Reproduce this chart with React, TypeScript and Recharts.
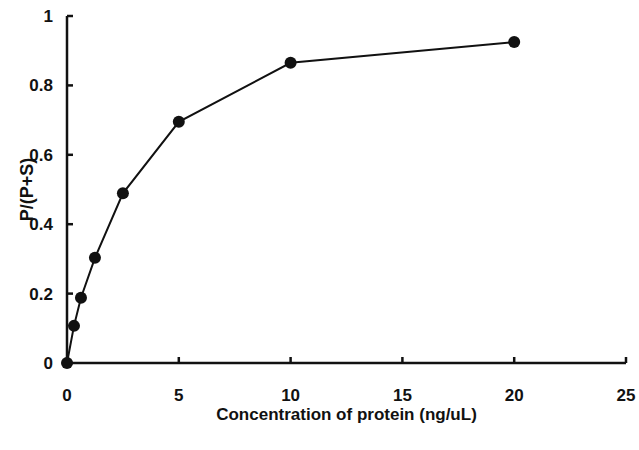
import { LineChart, Line, XAxis, YAxis } from "recharts";

const concentration = [0, 0.3125, 0.625, 1.25, 2.5, 5, 10, 20];
const ratio = [0, 0.107, 0.188, 0.303, 0.489, 0.695, 0.865, 0.925];
const xTicks = [0, 5, 10, 15, 20, 25];
const yTicks = [0, 0.2, 0.4, 0.6, 0.8, 1];

const data = concentration.map((c, i) => ({ c, r: ratio[i] }));

const font = "'Liberation Sans', Arial, sans-serif";
const tickStyle = { fontSize: 17, fontWeight: 700, fill: "#111", fontFamily: font };
const labelStyle = { fontSize: 17, fontWeight: 700, fill: "#111", fontFamily: font };

export default function App() {
  return (
    <div style={{ position: "absolute", left: 0, top: 0, background: "#fff" }}>
      <LineChart width={639} height={450} data={data} margin={{ top: 16, right: 13, left: 0, bottom: 0 }}>
        <XAxis
          dataKey="c"
          type="number"
          domain={[0, 25]}
          ticks={xTicks}
          height={87}
          stroke="#111"
          strokeWidth={2.5}
          tickSize={-6}
          tickMargin={32}
          tick={tickStyle}
          label={{
            value: "Concentration of protein (ng/uL)",
            position: "insideBottom",
            offset: 30,
            style: labelStyle,
          }}
        />
        <YAxis
          type="number"
          domain={[0, 1]}
          ticks={yTicks}
          width={67}
          stroke="#111"
          strokeWidth={2.5}
          tickSize={-6}
          tickMargin={20}
          tick={tickStyle}
          tickFormatter={(v: number) => String(v)}
          label={{
            value: "P/(P+S)",
            angle: -90,
            position: "insideLeft",
            offset: 27,
            style: { ...labelStyle, fontSize: 18, textAnchor: "middle" },
          }}
        />
        <Line
          dataKey="r"
          stroke="#111"
          strokeWidth={2}
          dot={{ r: 6, fill: "#111", stroke: "#111", strokeWidth: 0 }}
          isAnimationActive={false}
        />
      </LineChart>
    </div>
  );
}
